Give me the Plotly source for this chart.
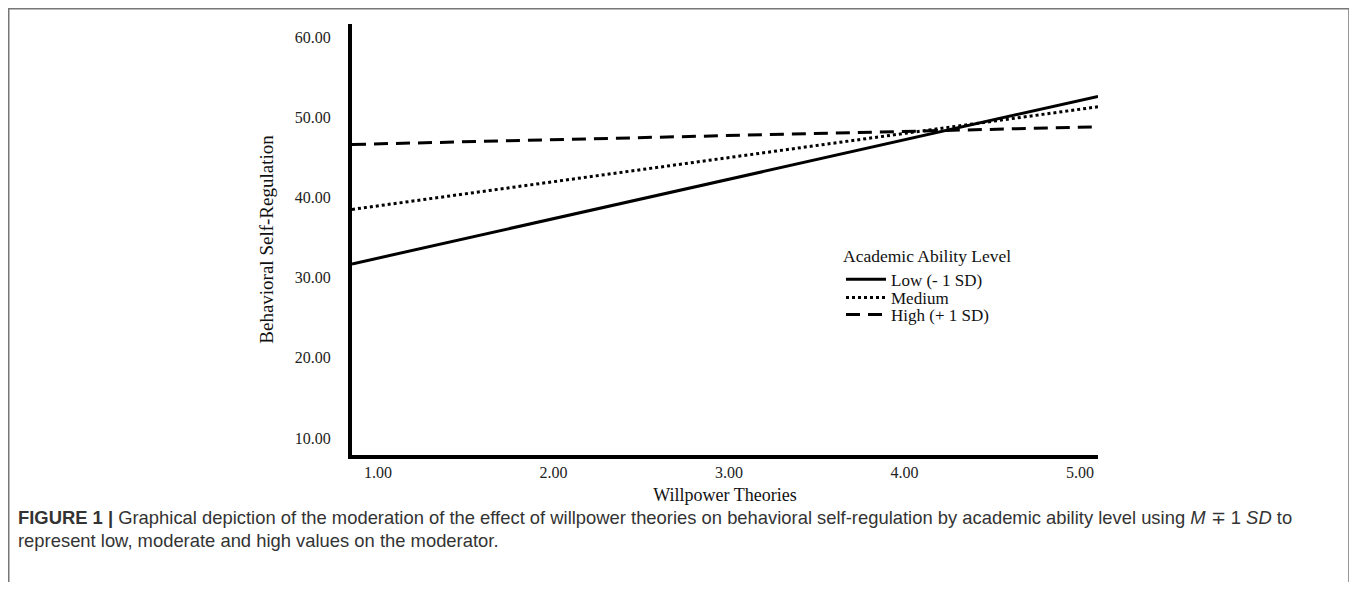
import plotly.graph_objects as go

# Data
x_vals = [0.852, 5.103]
low = [31.7, 52.6]
medium = [38.5, 51.3]
high = [46.6, 48.8]
series_names = ["Low (- 1 SD)", "Medium", "High (+ 1 SD)"]
x_ticks = [1, 2, 3, 4, 5]
x_ticklabels = ["1.00", "2.00", "3.00", "4.00", "5.00"]
y_ticks = [10, 20, 30, 40, 50, 60]
y_ticklabels = ["10.00", "20.00", "30.00", "40.00", "50.00", "60.00"]

# figure is placed by the page with an 8px body margin
W, H = 1342, 574
L, R, T, B = 344, 1090, 16, 447
pw, ph = R - L, B - T

serif = "Liberation Serif, Times New Roman, serif"
sans = "Liberation Sans, Arial, sans-serif"

def px_x(p):
    return (p - L) / pw

def px_y(p):
    return (B - p) / ph

fig = go.Figure()
styles = [("solid", 3), ("3px,3px", 3), ("14px,8px", 3)]
legend_ids = ["legend", "legend2", "legend3"]
for name, ys, (dash, w), lg in zip(series_names, [low, medium, high], styles, legend_ids):
    fig.add_trace(go.Scatter(x=x_vals, y=ys, mode="lines", name=name, legend=lg,
                             line=dict(color="black", width=w, dash=dash)))

item_font = dict(family=serif, size=17, color="#111")
leg_x = px_x(833)
common = dict(x=leg_x, xanchor="left", bgcolor="rgba(0,0,0,0)", font=item_font, itemwidth=40)

fig.update_layout(
    width=W, height=H,
    margin=dict(l=L, r=W - R, t=T, b=H - B),
    paper_bgcolor="white", plot_bgcolor="white",
    showlegend=True,
    legend=dict(y=px_y(231), yanchor="top",
                title=dict(text="Academic Ability Level", font=dict(family=serif, size=17.5, color="#111")),
                **common),
    legend2=dict(y=px_y(290), yanchor="middle", **common),
    legend3=dict(y=px_y(307), yanchor="middle", **common),
    xaxis=dict(range=[x_vals[0], x_vals[1]], tickvals=x_ticks, ticktext=x_ticklabels,
               showline=True, linecolor="black", linewidth=4, showgrid=False, zeroline=False,
               ticks="", tickfont=dict(family=serif, size=16, color="#222"),
               title=dict(text="Willpower Theories", font=dict(family=serif, size=18, color="#111"), standoff=9)),
    yaxis=dict(range=[7.88, 61.62], tickvals=y_ticks, ticktext=y_ticklabels,
               showline=True, linecolor="black", linewidth=4, showgrid=False, zeroline=False,
               ticks="", ticklabelstandoff=14, tickfont=dict(family=serif, size=16, color="#222"),
               title=dict(text="Behavioral Self-Regulation", font=dict(family=serif, size=19, color="#111"), standoff=17)),
)

# Outer frame (left, top, right edges; bottom edge lies below the visible area)
fig.add_shape(type="rect", xref="paper", yref="paper",
              x0=px_x(0.75), x1=px_x(1341), y0=px_y(640), y1=px_y(0.75),
              line=dict(color="#777", width=1.5), fillcolor="rgba(0,0,0,0)", layer="below")

caption1 = ("<b>FIGURE 1 |</b> Graphical depiction of the moderation of the effect of willpower theories on "
            "behavioral self-regulation by academic ability level using <i>M</i> ∓ 1 <i>SD</i> to")
caption2 = "represent low, moderate and high values on the moderator."
fig.add_annotation(xref="paper", yref="paper", x=px_x(8), y=px_y(509), xanchor="left", yanchor="middle",
                   text=caption1, showarrow=False, font=dict(family=sans, size=18.4, color="#333"))
fig.add_annotation(xref="paper", yref="paper", x=px_x(8), y=px_y(532), xanchor="left", yanchor="middle",
                   text=caption2, showarrow=False, font=dict(family=sans, size=18.4, color="#333"))

fig.write_html("out.html")
